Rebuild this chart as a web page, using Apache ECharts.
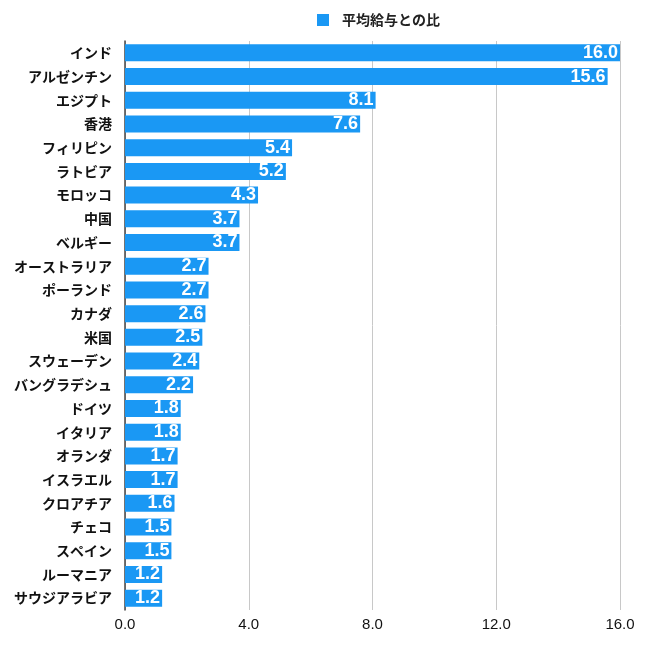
<!DOCTYPE html>
<html><head><meta charset="utf-8">
<script src="https://cdn.jsdelivr.net/npm/echarts@6/dist/echarts.min.js"></script>
<style>html,body{margin:0;padding:0;background:#fff}#c{width:650px;height:648px}</style>
</head><body><div id="c"></div>
<script>
const categories = ["インド","アルゼンチン","エジプト","香港","フィリピン","ラトビア","モロッコ","中国","ベルギー","オーストラリア","ポーランド","カナダ","米国","スウェーデン","バングラデシュ","ドイツ","イタリア","オランダ","イスラエル","クロアチア","チェコ","スペイン","ルーマニア","サウジアラビア"];
const values = [16.0,15.6,8.1,7.6,5.4,5.2,4.3,3.7,3.7,2.7,2.7,2.6,2.5,2.4,2.2,1.8,1.8,1.7,1.7,1.6,1.5,1.5,1.2,1.2];
const seriesName = "平均給与との比";
const font = '"Noto Sans CJK JP", "Noto Sans", sans-serif';
const numFont = '"Liberation Sans", Arial, sans-serif';
const chart = echarts.init(document.getElementById('c'));
chart.setOption({
  animation: false,
  textStyle: {fontFamily: font},
  legend: {
    top: 8, left: 312, itemWidth: 12, itemHeight: 12, icon: 'rect',
    textStyle: {fontSize: 14, fontWeight: 'bold', color: '#222', fontFamily: font, padding: [0, 0, 0, 8]},
    data: [seriesName]
  },
  grid: {left: 125, right: 30, top: 41, bottom: 38, containLabel: false},
  xAxis: {
    type: 'value', min: 0, max: 16, interval: 4,
    axisLine: {show: false}, axisTick: {show: false},
    splitLine: {lineStyle: {color: '#c8c8c8', width: 1}},
    axisLabel: {formatter: v => v.toFixed(1), fontSize: 15, color: '#111', fontFamily: numFont, margin: 7}
  },
  yAxis: {
    type: 'category', data: categories, inverse: true,
    axisLine: {lineStyle: {color: '#444', width: 1.5}}, axisTick: {show: false},
    axisLabel: {fontSize: 14, fontWeight: 'bold', color: '#111', fontFamily: font, margin: 13}
  },
  series: [{
    name: seriesName, type: 'bar', data: values, barWidth: 17,
    itemStyle: {color: '#1a98f4'},
    label: {show: true, position: 'insideRight', distance: 2, color: '#fff', fontSize: 18, fontWeight: 'bold', fontFamily: numFont, formatter: p => p.value.toFixed(1)}
  }]
});
</script></body></html>
